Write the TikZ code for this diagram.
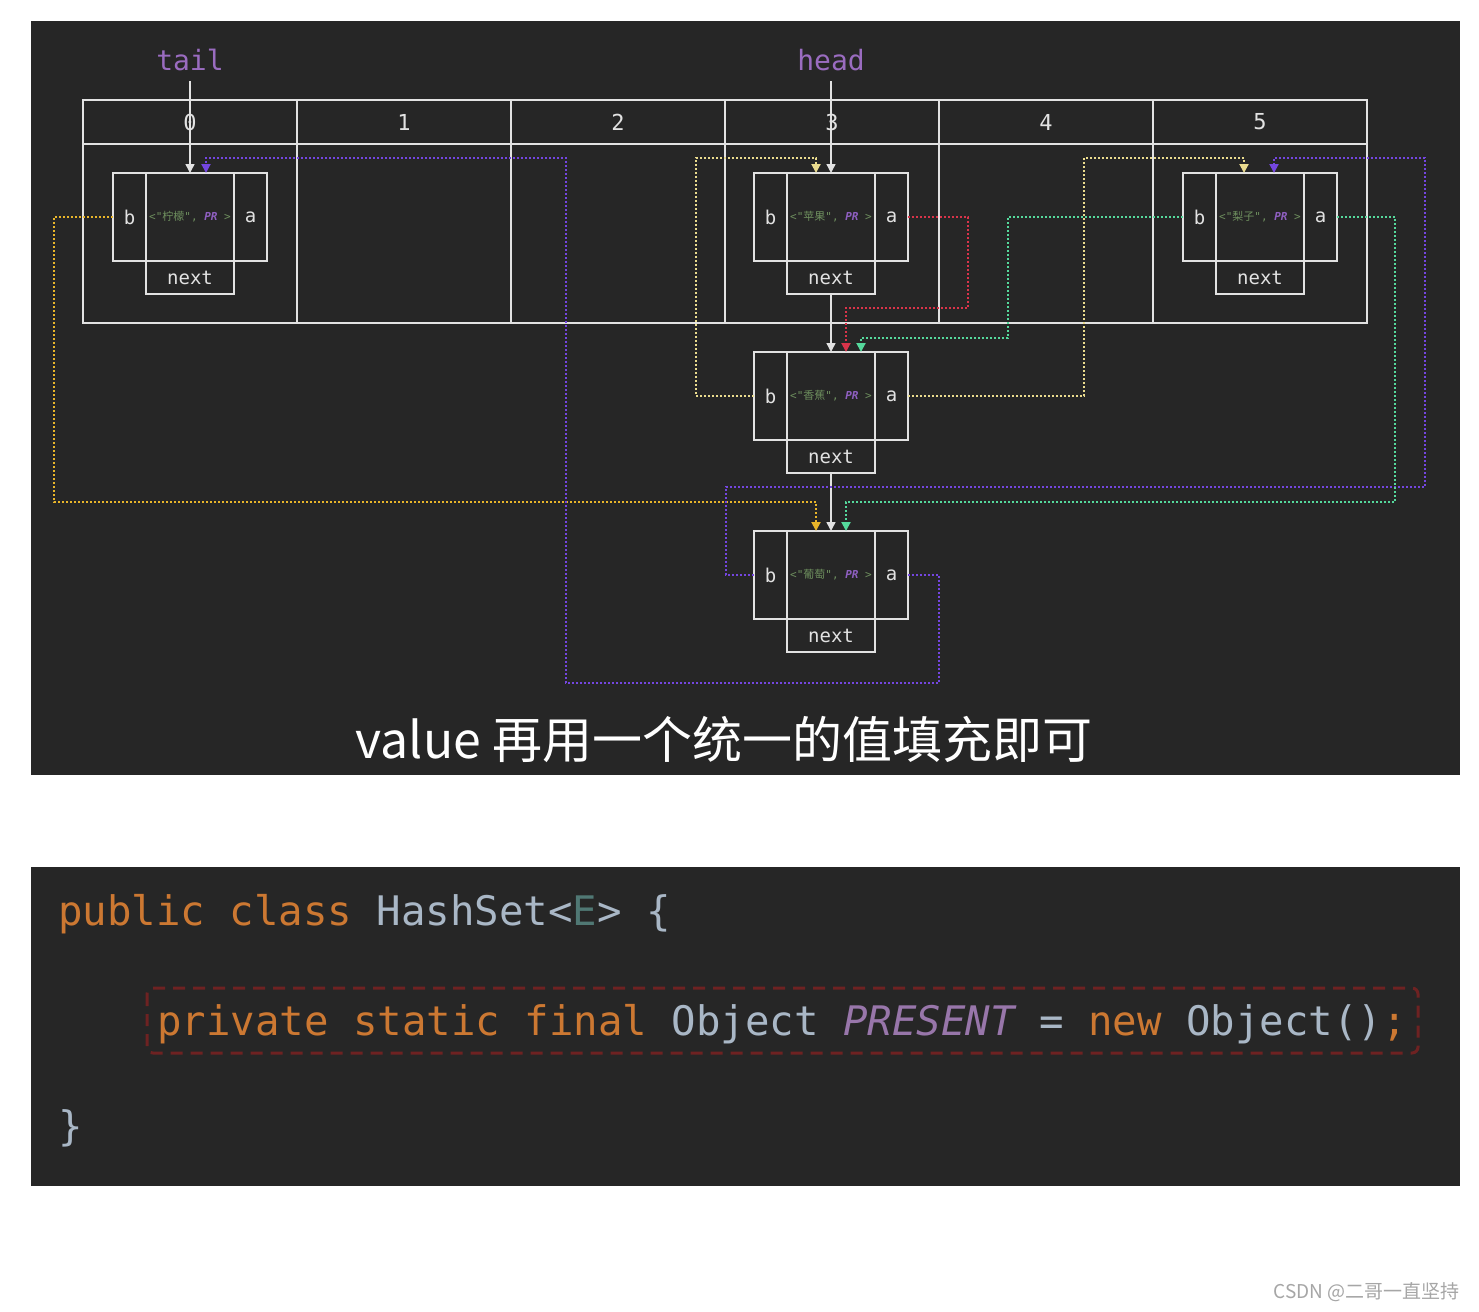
\documentclass[tikz,border=0pt]{standalone}
\usepackage{fontspec}
\usepackage{xcolor}
\usetikzlibrary{positioning,arrows.meta}

\newfontfamily\cjk{Noto Sans CJK SC}
\newfontfamily\monof{DejaVu Sans Mono}

\definecolor{panel}{HTML}{262626}
\definecolor{lineW}{HTML}{E2E2E2}
\definecolor{labelpurple}{HTML}{9A6CC0}
\definecolor{pairgreen}{HTML}{6E8F5E}
\definecolor{prpurple}{HTML}{8E5FC0}
\definecolor{linkpurple}{HTML}{7446E0}
\definecolor{linkgold}{HTML}{E8B52A}
\definecolor{linkpale}{HTML}{EADB8E}
\definecolor{linkred}{HTML}{D9344A}
\definecolor{linkgreen}{HTML}{55D99C}
\definecolor{codeorange}{HTML}{CC7832}
\definecolor{codefg}{HTML}{A9B7C6}
\definecolor{codegreen}{HTML}{507874}
\definecolor{codepurple}{HTML}{9876AA}
\definecolor{boxred}{HTML}{6E2222}

% text in the middle of an entry
\newcommand{\pairtxt}[1]{\color{pairgreen}\monof<"{\cjk #1}", {\color{prpurple}\bfseries\itshape PR}\ >}

% one entry: name, x, y, fruit
\newcommand{\fruitnode}[4]{%
  \node[valbox] (#1) at (#2,#3) {\pairtxt{#4}};
  \node[sidebox, left=0pt of #1] (#1-b) {b};
  \node[sidebox, right=0pt of #1] (#1-a) {a};
  \node[nextbox, below=0pt of #1] (#1-n) {next};
}

\begin{document}
\begin{tikzpicture}[x=1pt, y=-1pt, ->, >={Triangle[length=9pt,width=9pt]},
    box/.style={draw=lineW, line width=1.5pt, outer sep=0pt, inner sep=0pt, text=lineW},
    headcell/.style={box, minimum width=214pt, minimum height=44pt, font=\monof\fontsize{22}{22}\selectfont},
    bodycell/.style={box, minimum width=214pt, minimum height=179pt},
    valbox/.style={box, minimum width=88pt, minimum height=88pt, font=\fontsize{11}{11}\selectfont},
    sidebox/.style={box, minimum width=33pt, minimum height=88pt, font=\monof\fontsize{19}{19}\selectfont},
    nextbox/.style={box, minimum width=88pt, minimum height=33pt, font=\monof\fontsize{19}{19}\selectfont},
    ptr/.style={text=labelpurple, font=\monof\fontsize{28}{28}\selectfont},
    white link/.style={->, draw=lineW, fill=lineW, line width=1.5pt},
    link/.style={->, line width=2pt, dash pattern=on 2pt off 2pt}]

    % page and panels
    \useasboundingbox[fill=white] (0,0) rectangle (1479,1311);
    \fill[panel] (31,21) rectangle (1460,775);
    \fill[panel] (31,867) rectangle (1460,1186);

    % table
    \foreach \i in {0,...,5} {
        \node[headcell] (h\i) at ({190+214*\i},122) {\i};
        \node[bodycell] (c\i) at ({190+214*\i},233.5) {};
    }

    % entries
    \fruitnode{lemon}{190}{217}{柠檬}
    \fruitnode{apple}{831}{217}{苹果}
    \fruitnode{pear}{1260}{217}{梨子}
    \fruitnode{banana}{831}{396}{香蕉}
    \fruitnode{grape}{831}{575}{葡萄}

    % tail and head
    \node[ptr] (tail) at (190,60) {tail};
    \node[ptr] (head) at (831,60) {head};
    \draw[white link, shorten <=7pt] (tail.south) -- (lemon.north);
    \draw[white link, shorten <=7pt] (head.south) -- (apple.north);

    % next pointers
    \draw[white link] (apple-n.south) -- (banana.north);
    \draw[white link] (banana-n.south) -- (grape.north);

    % before / after links
    \draw[link, linkgold] (lemon-b.west) -| (54,502) -| ([xshift=-15pt]grape.north);
    \draw[link, linkpurple] (grape-a.east) -| (939,683) -| (566,158) -| ([xshift=16pt]lemon.north);
    \draw[link, linkpale] (banana-b.west) -| (696,158) -| ([xshift=-15pt]apple.north);
    \draw[link, linkred] (apple-a.east) -| (968,308) -| ([xshift=15pt]banana.north);
    \draw[link, linkgreen] (pear-b.west) -| (1008,338) -| ([xshift=30pt]banana.north);
    \draw[link, linkpale] (banana-a.east) -| (1084,158) -| ([xshift=-16pt]pear.north);
    \draw[link, linkpurple] (grape-b.west) -| (726,487) -| (1425,158) -| ([xshift=14pt]pear.north);
    \draw[link, linkgreen] (pear-a.east) -| (1395,502) -| ([xshift=15pt]grape.north);

    % caption
    \node[text=white, font=\cjk\fontsize{50}{50}\selectfont] (caption) at (724,740) {value 再用一个统一的值填充即可};

    % code
    \node[anchor=base west, inner sep=0pt, font=\monof\fontsize{40.7}{40.7}\selectfont] (line1) at (58,925)
        {{\color{codeorange}public class }{\color{codefg}HashSet<}{\color{codegreen}E}{\color{codefg}> \{}};
    \node[anchor=base west, inner sep=0pt, font=\monof\fontsize{40.7}{40.7}\selectfont] (line2) at (157,1035)
        {{\color{codeorange}private static final }{\color{codefg}Object }{\color{codepurple}\itshape PRESENT}{\color{codefg}\ = }{\color{codeorange}new }{\color{codefg}Object()}{\color{codeorange};}};
    \node[anchor=base west, inner sep=0pt, font=\monof\fontsize{40.7}{40.7}\selectfont, text=codefg] (line3) at (58,1140) {\}};
    \draw[-, boxred, line width=3pt, dash pattern=on 12pt off 8pt, rounded corners=6pt] (147,988) rectangle (1418,1053);

    % watermark
    \node[anchor=east, text=gray!70, font=\cjk\fontsize{19}{19}\selectfont] (mark) at (1463,1292) {CSDN @二哥一直坚持};
\end{tikzpicture}
\end{document}
